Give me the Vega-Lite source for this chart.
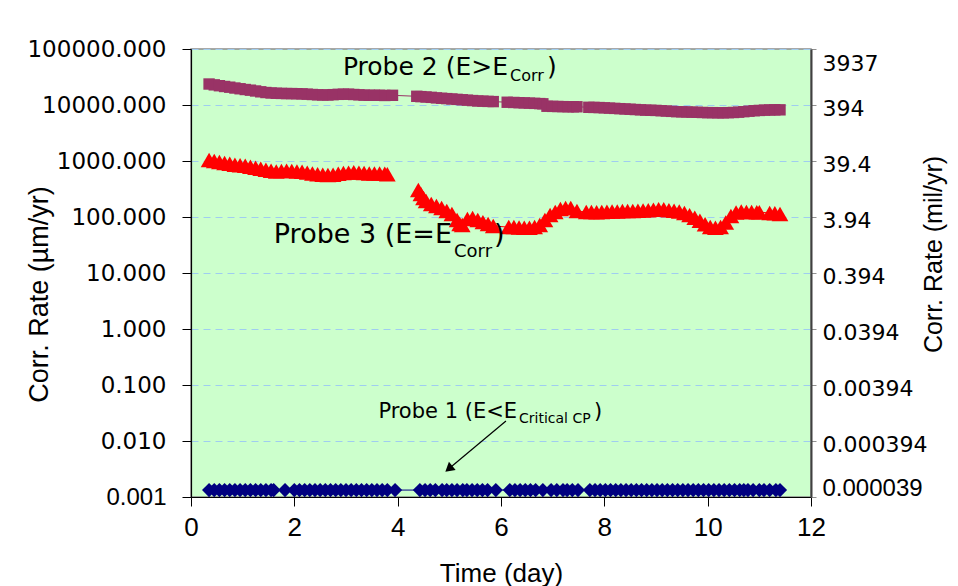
{
  "$schema": "https://vega.github.io/schema/vega-lite/v6.json",
  "width": 620,
  "height": 448,
  "autosize": {"type": "none"},
  "padding": {"left": 191, "top": 49, "right": 147, "bottom": 89},
  "background": "white",
  "config": {
    "view": {"fill": "#ccffcc", "stroke": "#8c8c8c", "strokeWidth": 1.5},
    "text": {"font": "DejaVu Sans", "color": "black"}
  },
  "resolve": {"scale": {"y": "independent"}},
  "layer": [
    {
      "data": {
        "values": [
          {"probe": "Probe 2", "day": 0.35, "rate": 23700}, {"probe": "Probe 2", "day": 0.45, "rate": 22900},
          {"probe": "Probe 2", "day": 0.55, "rate": 22100}, {"probe": "Probe 2", "day": 0.65, "rate": 21400},
          {"probe": "Probe 2", "day": 0.75, "rate": 20800}, {"probe": "Probe 2", "day": 0.85, "rate": 20100},
          {"probe": "Probe 2", "day": 0.95, "rate": 19500}, {"probe": "Probe 2", "day": 1.05, "rate": 18900},
          {"probe": "Probe 2", "day": 1.15, "rate": 18400}, {"probe": "Probe 2", "day": 1.25, "rate": 17800},
          {"probe": "Probe 2", "day": 1.35, "rate": 17200}, {"probe": "Probe 2", "day": 1.45, "rate": 16700},
          {"probe": "Probe 2", "day": 1.55, "rate": 16400}, {"probe": "Probe 2", "day": 1.65, "rate": 16200},
          {"probe": "Probe 2", "day": 1.75, "rate": 16100}, {"probe": "Probe 2", "day": 1.85, "rate": 16000},
          {"probe": "Probe 2", "day": 1.95, "rate": 16000}, {"probe": "Probe 2", "day": 2.05, "rate": 15900},
          {"probe": "Probe 2", "day": 2.15, "rate": 15800}, {"probe": "Probe 2", "day": 2.25, "rate": 15600},
          {"probe": "Probe 2", "day": 2.35, "rate": 15400}, {"probe": "Probe 2", "day": 2.45, "rate": 15200},
          {"probe": "Probe 2", "day": 2.55, "rate": 15100}, {"probe": "Probe 2", "day": 2.65, "rate": 15100},
          {"probe": "Probe 2", "day": 2.75, "rate": 15300}, {"probe": "Probe 2", "day": 2.85, "rate": 15500},
          {"probe": "Probe 2", "day": 2.95, "rate": 15600}, {"probe": "Probe 2", "day": 3.05, "rate": 15600},
          {"probe": "Probe 2", "day": 3.15, "rate": 15400}, {"probe": "Probe 2", "day": 3.25, "rate": 15200},
          {"probe": "Probe 2", "day": 3.35, "rate": 15000}, {"probe": "Probe 2", "day": 3.45, "rate": 14900},
          {"probe": "Probe 2", "day": 3.55, "rate": 14900}, {"probe": "Probe 2", "day": 3.65, "rate": 14900},
          {"probe": "Probe 2", "day": 3.75, "rate": 14800}, {"probe": "Probe 2", "day": 3.9, "rate": 14900},
          {"probe": "Probe 2", "day": 4.37, "rate": 14300}, {"probe": "Probe 2", "day": 4.45, "rate": 14100},
          {"probe": "Probe 2", "day": 4.55, "rate": 13900}, {"probe": "Probe 2", "day": 4.65, "rate": 13700},
          {"probe": "Probe 2", "day": 4.75, "rate": 13400}, {"probe": "Probe 2", "day": 4.85, "rate": 13200},
          {"probe": "Probe 2", "day": 4.95, "rate": 13000}, {"probe": "Probe 2", "day": 5.05, "rate": 12800},
          {"probe": "Probe 2", "day": 5.15, "rate": 12600}, {"probe": "Probe 2", "day": 5.25, "rate": 12400},
          {"probe": "Probe 2", "day": 5.35, "rate": 12200}, {"probe": "Probe 2", "day": 5.45, "rate": 12000},
          {"probe": "Probe 2", "day": 5.55, "rate": 11800}, {"probe": "Probe 2", "day": 5.65, "rate": 11700},
          {"probe": "Probe 2", "day": 5.75, "rate": 11600}, {"probe": "Probe 2", "day": 5.85, "rate": 11500},
          {"probe": "Probe 2", "day": 6.12, "rate": 11200}, {"probe": "Probe 2", "day": 6.25, "rate": 11100},
          {"probe": "Probe 2", "day": 6.35, "rate": 11000}, {"probe": "Probe 2", "day": 6.45, "rate": 10900},
          {"probe": "Probe 2", "day": 6.55, "rate": 10800}, {"probe": "Probe 2", "day": 6.65, "rate": 10700},
          {"probe": "Probe 2", "day": 6.75, "rate": 10600}, {"probe": "Probe 2", "day": 6.81, "rate": 10500},
          {"probe": "Probe 2", "day": 6.89, "rate": 9500}, {"probe": "Probe 2", "day": 7.0, "rate": 9450},
          {"probe": "Probe 2", "day": 7.1, "rate": 9400}, {"probe": "Probe 2", "day": 7.2, "rate": 9350},
          {"probe": "Probe 2", "day": 7.3, "rate": 9300}, {"probe": "Probe 2", "day": 7.4, "rate": 9300},
          {"probe": "Probe 2", "day": 7.47, "rate": 9300},
          {"probe": "Probe 2", "day": 7.7, "rate": 9100}, {"probe": "Probe 2", "day": 7.8, "rate": 9050},
          {"probe": "Probe 2", "day": 7.9, "rate": 9000}, {"probe": "Probe 2", "day": 8.0, "rate": 8900},
          {"probe": "Probe 2", "day": 8.1, "rate": 8800}, {"probe": "Probe 2", "day": 8.2, "rate": 8700},
          {"probe": "Probe 2", "day": 8.3, "rate": 8600}, {"probe": "Probe 2", "day": 8.4, "rate": 8500},
          {"probe": "Probe 2", "day": 8.5, "rate": 8400}, {"probe": "Probe 2", "day": 8.6, "rate": 8300},
          {"probe": "Probe 2", "day": 8.7, "rate": 8200}, {"probe": "Probe 2", "day": 8.8, "rate": 8100},
          {"probe": "Probe 2", "day": 8.9, "rate": 8050}, {"probe": "Probe 2", "day": 9.0, "rate": 8000},
          {"probe": "Probe 2", "day": 9.1, "rate": 7900}, {"probe": "Probe 2", "day": 9.2, "rate": 7800},
          {"probe": "Probe 2", "day": 9.3, "rate": 7700}, {"probe": "Probe 2", "day": 9.4, "rate": 7600},
          {"probe": "Probe 2", "day": 9.5, "rate": 7550}, {"probe": "Probe 2", "day": 9.6, "rate": 7500},
          {"probe": "Probe 2", "day": 9.7, "rate": 7450}, {"probe": "Probe 2", "day": 9.8, "rate": 7400},
          {"probe": "Probe 2", "day": 9.9, "rate": 7350}, {"probe": "Probe 2", "day": 10.0, "rate": 7300},
          {"probe": "Probe 2", "day": 10.1, "rate": 7300}, {"probe": "Probe 2", "day": 10.2, "rate": 7250},
          {"probe": "Probe 2", "day": 10.3, "rate": 7250}, {"probe": "Probe 2", "day": 10.4, "rate": 7300},
          {"probe": "Probe 2", "day": 10.5, "rate": 7350}, {"probe": "Probe 2", "day": 10.6, "rate": 7450},
          {"probe": "Probe 2", "day": 10.7, "rate": 7600}, {"probe": "Probe 2", "day": 10.8, "rate": 7750},
          {"probe": "Probe 2", "day": 10.9, "rate": 7900}, {"probe": "Probe 2", "day": 11.0, "rate": 8000},
          {"probe": "Probe 2", "day": 11.1, "rate": 8100}, {"probe": "Probe 2", "day": 11.2, "rate": 8150},
          {"probe": "Probe 2", "day": 11.3, "rate": 8200}, {"probe": "Probe 2", "day": 11.4, "rate": 8200},

          {"probe": "Probe 3", "day": 0.35, "rate": 1040}, {"probe": "Probe 3", "day": 0.45, "rate": 1000},
          {"probe": "Probe 3", "day": 0.55, "rate": 960}, {"probe": "Probe 3", "day": 0.65, "rate": 920},
          {"probe": "Probe 3", "day": 0.75, "rate": 890}, {"probe": "Probe 3", "day": 0.85, "rate": 860},
          {"probe": "Probe 3", "day": 0.95, "rate": 840}, {"probe": "Probe 3", "day": 1.05, "rate": 820},
          {"probe": "Probe 3", "day": 1.15, "rate": 790}, {"probe": "Probe 3", "day": 1.25, "rate": 760},
          {"probe": "Probe 3", "day": 1.35, "rate": 730}, {"probe": "Probe 3", "day": 1.45, "rate": 700},
          {"probe": "Probe 3", "day": 1.55, "rate": 670}, {"probe": "Probe 3", "day": 1.65, "rate": 650},
          {"probe": "Probe 3", "day": 1.75, "rate": 660}, {"probe": "Probe 3", "day": 1.85, "rate": 670},
          {"probe": "Probe 3", "day": 1.95, "rate": 660}, {"probe": "Probe 3", "day": 2.05, "rate": 650},
          {"probe": "Probe 3", "day": 2.15, "rate": 640}, {"probe": "Probe 3", "day": 2.25, "rate": 620},
          {"probe": "Probe 3", "day": 2.35, "rate": 600}, {"probe": "Probe 3", "day": 2.45, "rate": 580},
          {"probe": "Probe 3", "day": 2.55, "rate": 570}, {"probe": "Probe 3", "day": 2.65, "rate": 560},
          {"probe": "Probe 3", "day": 2.75, "rate": 570}, {"probe": "Probe 3", "day": 2.85, "rate": 590},
          {"probe": "Probe 3", "day": 2.95, "rate": 610}, {"probe": "Probe 3", "day": 3.05, "rate": 620},
          {"probe": "Probe 3", "day": 3.15, "rate": 630}, {"probe": "Probe 3", "day": 3.25, "rate": 620},
          {"probe": "Probe 3", "day": 3.35, "rate": 610}, {"probe": "Probe 3", "day": 3.45, "rate": 600},
          {"probe": "Probe 3", "day": 3.55, "rate": 600}, {"probe": "Probe 3", "day": 3.65, "rate": 600},
          {"probe": "Probe 3", "day": 3.75, "rate": 590}, {"probe": "Probe 3", "day": 3.8, "rate": 580},
          {"probe": "Probe 3", "day": 4.1, "rate": null},
          {"probe": "Probe 3", "day": 4.4, "rate": 303}, {"probe": "Probe 3", "day": 4.45, "rate": 258},
          {"probe": "Probe 3", "day": 4.5, "rate": 218}, {"probe": "Probe 3", "day": 4.55, "rate": 193},
          {"probe": "Probe 3", "day": 4.65, "rate": 170}, {"probe": "Probe 3", "day": 4.75, "rate": 157},
          {"probe": "Probe 3", "day": 4.85, "rate": 145}, {"probe": "Probe 3", "day": 4.95, "rate": 128},
          {"probe": "Probe 3", "day": 5.05, "rate": 113}, {"probe": "Probe 3", "day": 5.15, "rate": 88},
          {"probe": "Probe 3", "day": 5.2, "rate": 75}, {"probe": "Probe 3", "day": 5.25, "rate": 72},
          {"probe": "Probe 3", "day": 5.35, "rate": 92}, {"probe": "Probe 3", "day": 5.45, "rate": 96},
          {"probe": "Probe 3", "day": 5.55, "rate": 88}, {"probe": "Probe 3", "day": 5.65, "rate": 81},
          {"probe": "Probe 3", "day": 5.75, "rate": 75}, {"probe": "Probe 3", "day": 5.85, "rate": 69},
          {"probe": "Probe 3", "day": 6.15, "rate": 66}, {"probe": "Probe 3", "day": 6.25, "rate": 66},
          {"probe": "Probe 3", "day": 6.35, "rate": 65}, {"probe": "Probe 3", "day": 6.45, "rate": 64},
          {"probe": "Probe 3", "day": 6.55, "rate": 64}, {"probe": "Probe 3", "day": 6.65, "rate": 66},
          {"probe": "Probe 3", "day": 6.75, "rate": 72}, {"probe": "Probe 3", "day": 6.85, "rate": 88},
          {"probe": "Probe 3", "day": 6.95, "rate": 109}, {"probe": "Probe 3", "day": 7.05, "rate": 123},
          {"probe": "Probe 3", "day": 7.15, "rate": 139}, {"probe": "Probe 3", "day": 7.25, "rate": 145},
          {"probe": "Probe 3", "day": 7.35, "rate": 145}, {"probe": "Probe 3", "day": 7.47, "rate": 128},
          {"probe": "Probe 3", "day": 7.65, "rate": 123}, {"probe": "Probe 3", "day": 7.75, "rate": 123},
          {"probe": "Probe 3", "day": 7.85, "rate": 122}, {"probe": "Probe 3", "day": 7.95, "rate": 123},
          {"probe": "Probe 3", "day": 8.05, "rate": 124}, {"probe": "Probe 3", "day": 8.15, "rate": 125},
          {"probe": "Probe 3", "day": 8.25, "rate": 126}, {"probe": "Probe 3", "day": 8.35, "rate": 128},
          {"probe": "Probe 3", "day": 8.45, "rate": 128}, {"probe": "Probe 3", "day": 8.55, "rate": 128},
          {"probe": "Probe 3", "day": 8.65, "rate": 129}, {"probe": "Probe 3", "day": 8.75, "rate": 131},
          {"probe": "Probe 3", "day": 8.85, "rate": 132}, {"probe": "Probe 3", "day": 8.95, "rate": 135},
          {"probe": "Probe 3", "day": 9.05, "rate": 138}, {"probe": "Probe 3", "day": 9.15, "rate": 137},
          {"probe": "Probe 3", "day": 9.25, "rate": 132}, {"probe": "Probe 3", "day": 9.35, "rate": 129},
          {"probe": "Probe 3", "day": 9.45, "rate": 126}, {"probe": "Probe 3", "day": 9.55, "rate": 118},
          {"probe": "Probe 3", "day": 9.65, "rate": 108}, {"probe": "Probe 3", "day": 9.75, "rate": 97},
          {"probe": "Probe 3", "day": 9.85, "rate": 86}, {"probe": "Probe 3", "day": 9.95, "rate": 74},
          {"probe": "Probe 3", "day": 10.05, "rate": 66}, {"probe": "Probe 3", "day": 10.15, "rate": 64},
          {"probe": "Probe 3", "day": 10.25, "rate": 66}, {"probe": "Probe 3", "day": 10.35, "rate": 80},
          {"probe": "Probe 3", "day": 10.45, "rate": 104}, {"probe": "Probe 3", "day": 10.55, "rate": 120},
          {"probe": "Probe 3", "day": 10.65, "rate": 125}, {"probe": "Probe 3", "day": 10.75, "rate": 123},
          {"probe": "Probe 3", "day": 10.85, "rate": 123}, {"probe": "Probe 3", "day": 10.95, "rate": 122},
          {"probe": "Probe 3", "day": 11.0, "rate": 122},
          {"probe": "Probe 3", "day": 11.2, "rate": 118}, {"probe": "Probe 3", "day": 11.3, "rate": 117},
          {"probe": "Probe 3", "day": 11.4, "rate": 113},

          {"probe": "Probe 1", "day": 0.35, "rate": 0.00133}, {"probe": "Probe 1", "day": 0.45, "rate": 0.00133},
          {"probe": "Probe 1", "day": 0.55, "rate": 0.00133}, {"probe": "Probe 1", "day": 0.65, "rate": 0.00133},
          {"probe": "Probe 1", "day": 0.75, "rate": 0.00133}, {"probe": "Probe 1", "day": 0.85, "rate": 0.00133},
          {"probe": "Probe 1", "day": 0.95, "rate": 0.00133}, {"probe": "Probe 1", "day": 1.05, "rate": 0.00133},
          {"probe": "Probe 1", "day": 1.15, "rate": 0.00133}, {"probe": "Probe 1", "day": 1.25, "rate": 0.00133},
          {"probe": "Probe 1", "day": 1.35, "rate": 0.00133}, {"probe": "Probe 1", "day": 1.45, "rate": 0.00133},
          {"probe": "Probe 1", "day": 1.55, "rate": 0.00133}, {"probe": "Probe 1", "day": 1.6, "rate": 0.00133},
          {"probe": "Probe 1", "day": 1.82, "rate": 0.00133},
          {"probe": "Probe 1", "day": 2.0, "rate": 0.00133}, {"probe": "Probe 1", "day": 2.1, "rate": 0.00133},
          {"probe": "Probe 1", "day": 2.2, "rate": 0.00133}, {"probe": "Probe 1", "day": 2.3, "rate": 0.00133},
          {"probe": "Probe 1", "day": 2.4, "rate": 0.00133}, {"probe": "Probe 1", "day": 2.5, "rate": 0.00133},
          {"probe": "Probe 1", "day": 2.6, "rate": 0.00133}, {"probe": "Probe 1", "day": 2.7, "rate": 0.00133},
          {"probe": "Probe 1", "day": 2.8, "rate": 0.00133}, {"probe": "Probe 1", "day": 2.9, "rate": 0.00133},
          {"probe": "Probe 1", "day": 3.0, "rate": 0.00133}, {"probe": "Probe 1", "day": 3.1, "rate": 0.00133},
          {"probe": "Probe 1", "day": 3.2, "rate": 0.00133}, {"probe": "Probe 1", "day": 3.3, "rate": 0.00133},
          {"probe": "Probe 1", "day": 3.4, "rate": 0.00133}, {"probe": "Probe 1", "day": 3.5, "rate": 0.00133},
          {"probe": "Probe 1", "day": 3.6, "rate": 0.00133}, {"probe": "Probe 1", "day": 3.7, "rate": 0.00133},
          {"probe": "Probe 1", "day": 3.8, "rate": 0.00133}, {"probe": "Probe 1", "day": 3.95, "rate": 0.00133},
          {"probe": "Probe 1", "day": 4.43, "rate": 0.00133}, {"probe": "Probe 1", "day": 4.53, "rate": 0.00133},
          {"probe": "Probe 1", "day": 4.63, "rate": 0.00133}, {"probe": "Probe 1", "day": 4.73, "rate": 0.00133},
          {"probe": "Probe 1", "day": 4.86, "rate": 0.00133},
          {"probe": "Probe 1", "day": 4.95, "rate": 0.00133}, {"probe": "Probe 1", "day": 5.05, "rate": 0.00133},
          {"probe": "Probe 1", "day": 5.15, "rate": 0.00133}, {"probe": "Probe 1", "day": 5.26, "rate": 0.00133},
          {"probe": "Probe 1", "day": 5.34, "rate": 0.00133}, {"probe": "Probe 1", "day": 5.44, "rate": 0.00133},
          {"probe": "Probe 1", "day": 5.54, "rate": 0.00133}, {"probe": "Probe 1", "day": 5.64, "rate": 0.00133},
          {"probe": "Probe 1", "day": 5.74, "rate": 0.00133}, {"probe": "Probe 1", "day": 5.9, "rate": 0.00133},
          {"probe": "Probe 1", "day": 6.17, "rate": 0.00133}, {"probe": "Probe 1", "day": 6.27, "rate": 0.00133},
          {"probe": "Probe 1", "day": 6.37, "rate": 0.00133}, {"probe": "Probe 1", "day": 6.47, "rate": 0.00133},
          {"probe": "Probe 1", "day": 6.57, "rate": 0.00133}, {"probe": "Probe 1", "day": 6.67, "rate": 0.00133},
          {"probe": "Probe 1", "day": 6.81, "rate": 0.00133},
          {"probe": "Probe 1", "day": 6.97, "rate": 0.00133}, {"probe": "Probe 1", "day": 7.08, "rate": 0.00133},
          {"probe": "Probe 1", "day": 7.2, "rate": 0.00133},
          {"probe": "Probe 1", "day": 7.28, "rate": 0.00133}, {"probe": "Probe 1", "day": 7.38, "rate": 0.00133},
          {"probe": "Probe 1", "day": 7.49, "rate": 0.00133},
          {"probe": "Probe 1", "day": 7.72, "rate": 0.00133}, {"probe": "Probe 1", "day": 7.82, "rate": 0.00133},
          {"probe": "Probe 1", "day": 7.92, "rate": 0.00133}, {"probe": "Probe 1", "day": 8.02, "rate": 0.00133},
          {"probe": "Probe 1", "day": 8.12, "rate": 0.00133}, {"probe": "Probe 1", "day": 8.22, "rate": 0.00133},
          {"probe": "Probe 1", "day": 8.32, "rate": 0.00133}, {"probe": "Probe 1", "day": 8.42, "rate": 0.00133},
          {"probe": "Probe 1", "day": 8.52, "rate": 0.00133}, {"probe": "Probe 1", "day": 8.62, "rate": 0.00133},
          {"probe": "Probe 1", "day": 8.72, "rate": 0.00133}, {"probe": "Probe 1", "day": 8.82, "rate": 0.00133},
          {"probe": "Probe 1", "day": 8.92, "rate": 0.00133}, {"probe": "Probe 1", "day": 9.02, "rate": 0.00133},
          {"probe": "Probe 1", "day": 9.12, "rate": 0.00133}, {"probe": "Probe 1", "day": 9.22, "rate": 0.00133},
          {"probe": "Probe 1", "day": 9.32, "rate": 0.00133}, {"probe": "Probe 1", "day": 9.42, "rate": 0.00133},
          {"probe": "Probe 1", "day": 9.52, "rate": 0.00133}, {"probe": "Probe 1", "day": 9.62, "rate": 0.00133},
          {"probe": "Probe 1", "day": 9.72, "rate": 0.00133}, {"probe": "Probe 1", "day": 9.82, "rate": 0.00133},
          {"probe": "Probe 1", "day": 9.92, "rate": 0.00133}, {"probe": "Probe 1", "day": 10.02, "rate": 0.00133},
          {"probe": "Probe 1", "day": 10.12, "rate": 0.00133}, {"probe": "Probe 1", "day": 10.22, "rate": 0.00133},
          {"probe": "Probe 1", "day": 10.32, "rate": 0.00133}, {"probe": "Probe 1", "day": 10.42, "rate": 0.00133},
          {"probe": "Probe 1", "day": 10.52, "rate": 0.00133}, {"probe": "Probe 1", "day": 10.62, "rate": 0.00133},
          {"probe": "Probe 1", "day": 10.7, "rate": 0.00133},
          {"probe": "Probe 1", "day": 10.78, "rate": 0.00133}, {"probe": "Probe 1", "day": 10.88, "rate": 0.00133},
          {"probe": "Probe 1", "day": 11.0, "rate": 0.00133},
          {"probe": "Probe 1", "day": 11.09, "rate": 0.00133}, {"probe": "Probe 1", "day": 11.2, "rate": 0.00133},
          {"probe": "Probe 1", "day": 11.32, "rate": 0.00133}, {"probe": "Probe 1", "day": 11.4, "rate": 0.00133}
        ]
      },
      "encoding": {
        "x": {
          "field": "day",
          "type": "quantitative",
          "scale": {"domain": [0, 12], "nice": false, "zero": false},
          "axis": {
            "values": [0, 2, 4, 6, 8, 10, 12],
            "grid": false,
            "labelFlush": false,
            "labelOverlap": false,
            "domainColor": "black",
            "domainWidth": 1.2,
            "tickColor": "black",
            "tickSize": 9,
            "labelFont": "Liberation Sans",
            "labelFontSize": 26,
            "labelColor": "black",
            "labelBaseline": "middle",
            "labelPadding": 21,
            "title": "Time  (day)",
            "titleFont": "Liberation Sans",
            "titleFontSize": 26,
            "titleFontWeight": "normal",
            "titleColor": "black",
            "titleX": 310,
            "titleY": 76,
            "titleAlign": "center",
            "titleBaseline": "middle"
          }
        },
        "y": {
          "field": "rate",
          "type": "quantitative",
          "scale": {"type": "log", "domain": [0.001, 100000], "nice": false},
          "axis": {
            "orient": "left",
            "values": [0.001, 0.01, 0.1, 1, 10, 100, 1000, 10000, 100000],
            "format": ".3f",
            "labelOverlap": false,
            "labelFlush": false,
            "grid": true,
            "gridColor": "#9fcdf0",
            "gridDash": [7, 5],
            "gridWidth": 1.2,
            "domainColor": "black",
            "domainWidth": 1.2,
            "tickColor": "black",
            "tickSize": 9,
            "labelPadding": 16,
            "labelFont": {"condition": {"test": "datum.value < 0.002", "value": "Liberation Sans"}, "value": "DejaVu Sans"},
            "labelFontSize": {"condition": {"test": "datum.value < 0.002", "value": 24}, "value": 23},
            "labelColor": "black",
            "title": "Corr. Rate  (µm/yr)",
            "titleFont": "Liberation Sans",
            "titleFontSize": 27,
            "titleFontWeight": "normal",
            "titleColor": "black",
            "titleX": -152,
            "titleY": 245,
            "titleAlign": "center",
            "titleBaseline": "middle"
          }
        }
      },
      "layer": [
        {
          "mark": {"type": "line", "strokeWidth": 1, "invalid": "break-paths-show-domains"},
          "encoding": {
            "color": {
              "field": "probe",
              "type": "nominal",
              "scale": {"domain": ["Probe 1", "Probe 2", "Probe 3"], "range": ["#000080", "#993366", "#ff0000"]},
              "legend": null
            }
          }
        },
        {
          "transform": [{"filter": "datum.probe == 'Probe 2'"}],
          "mark": {"type": "point", "shape": "square", "filled": true, "opacity": 1, "color": "#993366", "size": 130}
        },
        {
          "transform": [{"filter": "datum.probe == 'Probe 3'"}],
          "mark": {"type": "point", "shape": "triangle-up", "filled": true, "opacity": 1, "color": "#ff0000", "size": 280}
        },
        {
          "transform": [{"filter": "datum.probe == 'Probe 1'"}],
          "mark": {"type": "point", "shape": "diamond", "filled": true, "opacity": 1, "color": "#000080", "size": 200}
        },
        {
          "data": {"values": [
            {"day": 6.135, "rate": 34340, "label": "Probe 2 (E>E"}
          ]},
          "mark": {"type": "text", "align": "right", "baseline": "alphabetic", "fontSize": 25},
          "encoding": {"text": {"field": "label"}}
        },
        {
          "data": {"values": [
            {"day": 6.174, "rate": 27160, "label": "Corr"}
          ]},
          "mark": {"type": "text", "align": "left", "baseline": "alphabetic", "fontSize": 16},
          "encoding": {"text": {"field": "label"}}
        },
        {
          "data": {"values": [
            {"day": 6.89, "rate": 34340, "label": ")"}
          ]},
          "mark": {"type": "text", "align": "left", "baseline": "alphabetic", "fontSize": 25},
          "encoding": {"text": {"field": "label"}}
        },
        {
          "data": {"values": [
            {"day": 5.052, "rate": 34.3, "label": "Probe 3 (E=E"}
          ]},
          "mark": {"type": "text", "align": "right", "baseline": "alphabetic", "fontSize": 27},
          "encoding": {"text": {"field": "label"}}
        },
        {
          "data": {"values": [
            {"day": 5.09, "rate": 19.3, "label": "Corr"}
          ]},
          "mark": {"type": "text", "align": "left", "baseline": "alphabetic", "fontSize": 18},
          "encoding": {"text": {"field": "label"}}
        },
        {
          "data": {"values": [
            {"day": 5.865, "rate": 34.3, "label": ")"}
          ]},
          "mark": {"type": "text", "align": "left", "baseline": "alphabetic", "fontSize": 27},
          "encoding": {"text": {"field": "label"}}
        },
        {
          "data": {"values": [
            {"day": 6.31, "rate": 0.02575, "label": "Probe 1  (E<E"}
          ]},
          "mark": {"type": "text", "align": "right", "baseline": "alphabetic", "fontSize": 21},
          "encoding": {"text": {"field": "label"}}
        },
        {
          "data": {"values": [
            {"day": 6.348, "rate": 0.02094, "label": "Critical CP"}
          ]},
          "mark": {"type": "text", "align": "left", "baseline": "alphabetic", "fontSize": 14},
          "encoding": {"text": {"field": "label"}}
        },
        {
          "data": {"values": [
            {"day": 7.8, "rate": 0.02575, "label": ")"}
          ]},
          "mark": {"type": "text", "align": "left", "baseline": "alphabetic", "fontSize": 21},
          "encoding": {"text": {"field": "label"}}
        },
        {
          "data": {"values": [
            {"day": 4.99, "rate": 0.00319}
          ]},
          "mark": {"type": "point", "shape": "triangle-up", "angle": 230, "filled": true, "color": "black", "size": 110, "opacity": 1}
        }
      ]
    },
    {
      "data": {"values": [
        {"day": 6.096, "rate": 0.02275, "day2": 4.99, "rate2": 0.00319}
      ]},
      "mark": {"type": "rule", "color": "black", "strokeWidth": 1.2},
      "encoding": {
        "x": {"field": "day", "type": "quantitative", "scale": {"domain": [0, 12], "nice": false, "zero": false}},
        "x2": {"field": "day2"},
        "y": {
          "field": "rate",
          "type": "quantitative",
          "scale": {"type": "log", "domain": [0.001, 100000], "nice": false},
          "axis": {
            "orient": "right",
            "values": [0.001, 0.01, 0.1, 1, 10, 100, 1000, 10000, 100000],
            "labelExpr": "datum.value > 50000 ? '3937' : datum.value > 5000 ? '394' : datum.value > 500 ? '39.4' : datum.value > 50 ? '3.94' : datum.value > 5 ? '0.394' : datum.value > 0.5 ? '0.0394' : datum.value > 0.05 ? '0.00394' : datum.value > 0.005 ? '0.000394' : '0.000039'",
            "labelOverlap": false,
            "labelFlush": false,
            "grid": false,
            "domainColor": "#404040",
            "domainWidth": 2,
            "tickColor": "#909090",
            "tickSize": 5,
            "labelPadding": 6,
            "labelFont": {"condition": {"test": "datum.value < 0.002", "value": "Liberation Sans"}, "value": "DejaVu Sans"},
            "labelFontSize": {"condition": {"test": "datum.value < 0.002", "value": 24}, "value": 22},
            "labelColor": "black",
            "labelOffset": {"condition": {"test": "datum.value > 50000", "value": 14}, "value": 3},
            "labelBaseline": {"condition": {"test": "datum.value < 0.002", "value": "bottom"}, "value": "middle"},
            "title": "Corr. Rate (mil/yr)",
            "titleFont": "Liberation Sans",
            "titleFontSize": 25,
            "titleFontWeight": "normal",
            "titleColor": "black",
            "titleAngle": 270,
            "titleX": 122,
            "titleY": 205,
            "titleAlign": "center",
            "titleBaseline": "middle"
          }
        },
        "y2": {"field": "rate2"}
      }
    }
  ]
}
